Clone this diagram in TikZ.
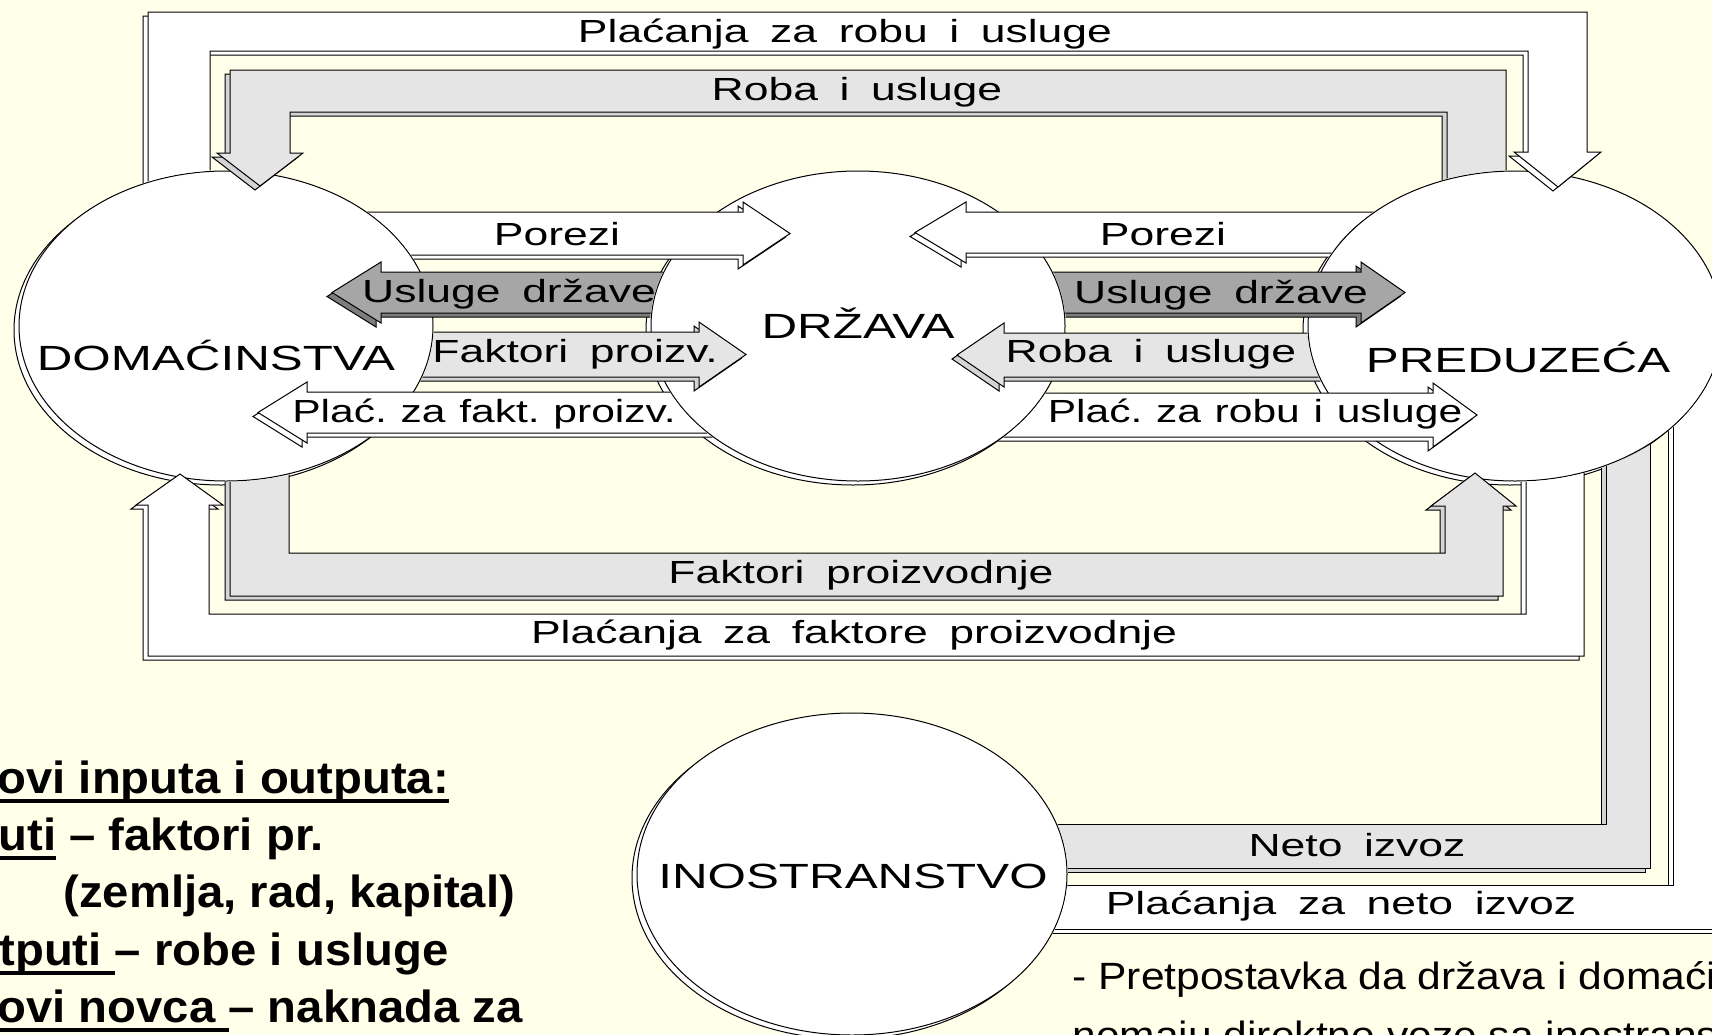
\documentclass[tikz,border=0pt]{standalone}
\usepackage{fontspec}
\setmainfont{Liberation Sans}
\newfontfamily\sectorfont[FakeStretch=1.41]{Liberation Sans}
\newfontfamily\flowfont[FakeStretch=1.39,WordSpace=1.75]{Liberation Sans}
\newfontfamily\flowtightfont[FakeStretch=1.33,WordSpace=1.16]{Liberation Sans}
\newfontfamily\notefont[FakeStretch=1.05]{Liberation Sans}
\newfontfamily\remarkfont[FakeStretch=1.12]{Liberation Sans}
\usetikzlibrary{positioning,calc,shapes.geometric,shadows}

\definecolor{bgcream}{RGB}{255,255,234}
\definecolor{bandgray}{RGB}{229,229,229}
\definecolor{bandside}{RGB}{212,212,212}
\definecolor{arrowdark}{RGB}{166,166,166}
\definecolor{arrowdarkside}{RGB}{125,125,125}

% cut the tail ellipse out of what follows (scope must use even odd rule)
\newcommand{\clipout}[3]{\clip (-100,-100) rectangle (1900,1200) (#1.center) ellipse [x radius=#2, y radius=#3];}
% #1 tail node, #2 face, #3 side, #4 tail x, #5 head base x, #6 tip x, #7 top y, #8 bottom y
\newcommand{\hblock}[8]{%
\begin{scope}[even odd rule]
\clipout{#1}{104pt}{78pt}
\foreach \dx/\dy/\col in {-5/4/#3, 0/0/#2}
  \draw[fill=\col, shift={(\dx,\dy)}] (#4,#7) -- (#5,#7) -- (#5,#7-10) -- (#6,{(#7+#8)/2}) -- (#5,#8+10) -- (#5,#8) -- (#4,#8) -- cycle;
\end{scope}}
\newcommand{\undr}[1]{\setbox0=\hbox{#1}\rlap{\rule[-5pt]{\wd0}{2.2pt}}\box0\relax}

\begin{document}
\frenchspacing
\begin{tikzpicture}[x=0.5pt, y=-0.5pt, line width=0.5pt]
\tikzstyle{sector}=[ellipse, draw=black, fill=white, inner sep=0pt, minimum width=207pt, minimum height=155pt,
  drop shadow={shadow xshift=-2.5pt, shadow yshift=-2pt, fill=white, draw=black, opacity=1}]
\tikzstyle{sectorname}=[font=\sectorfont\fontsize{17.5pt}{21pt}\selectfont, anchor=base, inner sep=0pt]
\tikzstyle{flowname}=[font=\flowfont\fontsize{16pt}{19pt}\selectfont, anchor=base, inner sep=0pt]
\tikzstyle{flowtight}=[flowname, font=\flowtightfont\fontsize{16pt}{19pt}\selectfont]
\tikzstyle{notetext}=[font=\notefont\bfseries\fontsize{22.5pt}{27pt}\selectfont, anchor=base west, inner sep=0pt]
\tikzstyle{remark}=[font=\remarkfont\fontsize{19pt}{23pt}\selectfont, anchor=base west, inner sep=0pt]
\useasboundingbox (0,0) rectangle (1712,1034);
\clip (0,0) rectangle (1712,1034);
\fill[bgcream] (0,0) rectangle (1712,1034);

\node[sector] (dom) at (226,326) {};
\node[sector] (drz) at (858,326) {};
\node[sector] (pre) at (1515,326) {};
\node[sector, minimum width=215pt, minimum height=161pt] (ino) at (852,874) {};

% Placanja za robu i usluge
\begin{scope}[even odd rule]
\clipout{dom}{104pt}{78pt}
\foreach \dx/\dy/\col in {-5/4/white, 0/0/white}
  \draw[fill=\col, shift={(\dx,\dy)}] (148,320) -- (148,12) -- (1587,12) -- (1587,152) -- (1601,152) -- (1558,187) -- (1514,152) -- (1528,152) -- (1528,51) -- (210,51) -- (210,320) -- cycle;
\end{scope}
% Roba i usluge
\begin{scope}[even odd rule]
\clipout{pre}{104pt}{78pt}
\foreach \dx/\dy/\col in {-5/4/bandside, 0/0/bandgray}
  \draw[fill=\col, shift={(\dx,\dy)}] (1506,320) -- (1506,70) -- (230,70) -- (230,153) -- (217,153) -- (260,186) -- (303,153) -- (290,153) -- (290,112) -- (1447,112) -- (1447,320) -- cycle;
\end{scope}
% Faktori proizvodnje
\begin{scope}[even odd rule]
\clipout{dom}{104pt}{78pt}
\foreach \dx/\dy/\col in {-5/4/bandside, 0/0/bandgray}
  \draw[fill=\col, shift={(\dx,\dy)}] (230,350) -- (230,596) -- (1503,596) -- (1503,506) -- (1516,506) -- (1475,473) -- (1431,506) -- (1445,506) -- (1445,553) -- (289,553) -- (289,350) -- cycle;
\end{scope}
% Placanja za faktore proizvodnje
\begin{scope}[even odd rule]
\clipout{pre}{104pt}{78pt}
\foreach \dx/\dy/\col in {-5/4/white, 0/0/white}
  \draw[fill=\col, shift={(\dx,\dy)}] (1584,350) -- (1584,656) -- (148,656) -- (148,505) -- (136,505) -- (180,474) -- (223,505) -- (209,505) -- (209,614) -- (1526,614) -- (1526,350) -- cycle;
\end{scope}
% Neto izvoz
\begin{scope}[even odd rule]
\clip (-100,-100) rectangle (1900,1200) (pre.center) ellipse [x radius=104pt, y radius=78pt] (ino.center) ellipse [x radius=108pt, y radius=81pt];
\foreach \dx/\dy/\col in {-5/4/bandside, 0/0/bandgray}
  \draw[fill=\col, shift={(\dx,\dy)}] (1650,300) -- (1650,868) -- (852,868) -- (852,824) -- (1606,824) -- (1606,300) -- cycle;
\foreach \dx/\dy/\col in {-5/4/white, 0/0/white}
  \draw[fill=\col, shift={(\dx,\dy)}] (1735,374) -- (1735,929) -- (852,929) -- (852,885) -- (1673,885) -- (1673,374) -- cycle;
\end{scope}

% arrows to and from the state
\hblock{dom}{white}{white}{300}{743}{790}{212}{255}
\hblock{drz}{arrowdark}{arrowdarkside}{720}{381}{332}{272}{313}
\hblock{dom}{bandgray}{bandside}{380}{699}{746}{332}{377}
\hblock{drz}{white}{white}{760}{307}{258}{392}{433}
\hblock{pre}{white}{white}{1420}{966}{915}{212}{253}
\hblock{drz}{arrowdark}{arrowdarkside}{1000}{1361}{1405}{272}{313}
\hblock{pre}{bandgray}{bandside}{1380}{1004}{957}{333}{377}
\hblock{drz}{white}{white}{960}{1433}{1477}{393}{437}

\node[sectorname] (domname) at ($(dom.center)+(-10,44)$) {DOMAĆINSTVA};
\node[sectorname] (drzname) at ($(drz.center)+(0,12)$) {DRŽAVA};
\node[sectorname] (prename) at ($(pre.center)+(3,46)$) {PREDUZEĆA};
\node[sectorname] (inoname) at ($(ino.center)+(1,14)$) {INOSTRANSTVO};

\node[flowname] (pay1) at (845,42) {Plaćanja za robu i usluge};
\node[flowname] (goods1) at (857,100) {Roba i usluge};
\node[flowname] (fact1) at (861,583) {Faktori proizvodnje};
\node[flowname] (pay2) at (854,643) {Plaćanja za faktore proizvodnje};
\node[flowname] (netx) at (1357,856) {Neto izvoz};
\node[flowname] (pay3) at (1341,914) {Plaćanja za neto izvoz};

\node[flowname] (tax1) at (557,245) {Porezi};
\node[flowname] (serv1) at (509,302) {Usluge države};
\node[flowname] (fact2) at (575,362) {Faktori proizv.};
\node[flowtight] (pay4) at (484,422) {Plać. za fakt. proizv.};
\node[flowname] (tax2) at (1163,245) {Porezi};
\node[flowname] (serv2) at (1221,303) {Usluge države};
\node[flowname] (goods2) at (1151,362) {Roba i usluge};
\node[flowtight] (pay5) at (1255,422) {Plać. za robu i usluge};

\node[notetext] (n1) at (-3,793) {\undr{ovi inputa i outputa:}};
\node[notetext] (n2) at (-2,850) {\undr{uti} – faktori pr.};
\node[notetext] (n3) at (63,907) {(zemlja, rad, kapital)};
\node[notetext] (n4) at (-1,965) {\undr{tputi }– robe i usluge};
\node[notetext] (n5) at (-3,1022) {\undr{ovi novca }– naknada za};

\node[remark] (r1) at (1072,989) {- Pretpostavka da država i domaći};
\node[remark] (r2) at (1072,1048) {nemaju direktne veze sa inostrans};
\end{tikzpicture}
\end{document}
